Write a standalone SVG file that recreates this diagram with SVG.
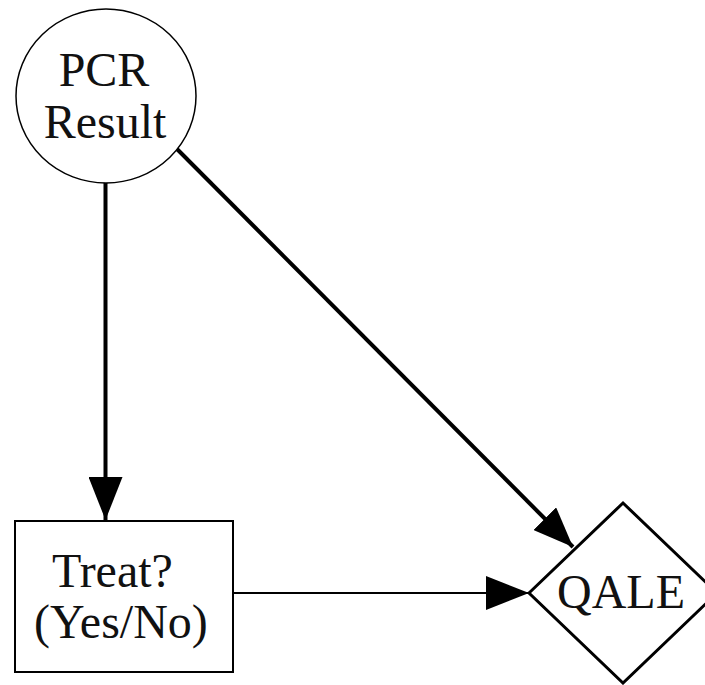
<svg xmlns="http://www.w3.org/2000/svg" width="705" height="685" viewBox="0 0 705 685">
<style>
text{font-family:'Liberation Serif','DejaVu Serif','Times New Roman',serif;font-size:48px;fill:#111;}
.node{fill:#fff;stroke:#000;}
.edge{fill:none;stroke:#000;}
</style>
<defs>
<marker id="arr" markerUnits="userSpaceOnUse" markerWidth="44" markerHeight="34" refX="43" refY="17" orient="auto">
<path d="M0,0 L43,17 L0,34 Z" fill="#000"/>
</marker>
<marker id="arrs" markerUnits="userSpaceOnUse" markerWidth="42" markerHeight="32" refX="40" refY="16" orient="auto">
<path d="M0,0 L40,16 L0,32 Z" fill="#000"/>
</marker>
</defs>
<rect width="705" height="685" fill="#fff"/>
<g id="edges">
<line class="edge" x1="105.5" y1="182" x2="105.5" y2="520" stroke-width="4" marker-end="url(#arr)"/>
<line class="edge" x1="175" y1="147" x2="573" y2="547" stroke-width="4" marker-end="url(#arrs)"/>
<line class="edge" x1="233" y1="593" x2="529" y2="593" stroke-width="2" marker-end="url(#arr)"/>
</g>
<g id="pcr">
<ellipse class="node" cx="106" cy="96" rx="90" ry="87" stroke-width="1.5"/>
<text font-family="Liberation Serif, serif" x="104" y="86" text-anchor="middle">PCR</text>
<text font-family="Liberation Serif, serif" x="105" y="138" text-anchor="middle">Result</text>
</g>
<g id="treat">
<rect class="node" x="15" y="521" width="218" height="151" stroke-width="2"/>
<text font-family="Liberation Serif, serif" x="52" y="587">Treat?</text>
<text font-family="Liberation Serif, serif" x="34" y="638">(Yes/No)</text>
</g>
<g id="qale">
<polygon class="node" points="529,593 623,503 717,593 623,683" stroke-width="3"/>
<text font-family="Liberation Serif, serif" x="557" y="608">QALE</text>
</g>
</svg>
